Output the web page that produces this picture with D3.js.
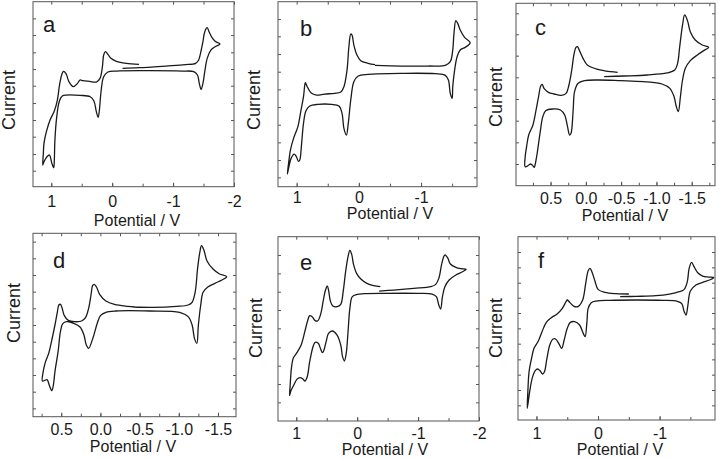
<!DOCTYPE html>
<html><head><meta charset="utf-8">
<script src="https://cdn.jsdelivr.net/npm/d3@7"></script>
<style>body{margin:0;background:#fff} svg{display:block}</style>
</head><body>
<svg id="chart" width="719" height="458"></svg>
<script>
// ---- Data: potential (V) and current (arbitrary units) ----
const potentialA = [-0.17,-0.44,-0.88,-1.20,-1.37,-1.42,-1.45,-1.49,-1.52,-1.56,-1.59,-1.64,-1.69,-1.77,-1.69,-1.62,-1.56,-1.52,-1.49,-1.46,-1.43,-1.40,-1.34,-1.15,-0.61,-0.07,0.07,0.14,0.18,0.21,0.23,0.26,0.30,0.36,0.53,0.75,0.82,0.87,0.91,0.94,0.95,0.96,0.99,1.03,1.07,1.12,1.14,1.13,1.12,1.08,1.02,0.95,0.90,0.86,0.82,0.80,0.76,0.71,0.64,0.57,0.53,0.48,0.37,0.26,0.20,0.16,0.14,0.11,0.07,0.02,-0.07,-0.23,-0.44];
const currentA = [35.5,35.7,36.2,36.6,37.0,38.0,40.0,43.5,46.5,47.7,46.5,44.7,43.6,42.8,42.0,41.0,38.5,34.5,31.0,29.2,31.0,33.5,34.5,34.7,34.8,34.7,34.4,33.0,29.0,23.0,20.8,22.5,25.7,27.0,27.4,27.5,27.2,25.5,21.0,14.0,8.0,5.7,7.0,9.5,9.0,7.5,6.5,10.0,13.0,16.5,20.0,22.7,26.0,31.0,34.0,34.6,34.0,31.5,30.0,31.0,32.0,31.8,31.6,31.4,32.5,36.0,39.5,40.5,39.7,38.5,37.6,37.0,36.7];

const potentialB = [-0.26,-0.69,-1.12,-1.39,-1.47,-1.51,-1.53,-1.56,-1.59,-1.63,-1.70,-1.79,-1.71,-1.63,-1.58,-1.54,-1.51,-1.50,-1.47,-1.44,-1.39,-1.23,-0.69,-0.15,0.01,0.08,0.13,0.17,0.20,0.24,0.27,0.32,0.44,0.66,0.79,0.85,0.89,0.92,0.95,0.97,1.01,1.04,1.09,1.13,1.15,1.13,1.10,1.05,0.98,0.93,0.89,0.87,0.86,0.83,0.77,0.68,0.55,0.39,0.29,0.24,0.19,0.16,0.13,0.11,0.08,0.03,-0.03,-0.15,-0.26];
const currentB = [36.4,36.2,36.2,36.4,37.5,41.0,46.0,49.8,49.0,47.0,44.8,43.2,41.8,41.0,39.0,35.0,30.0,26.5,28.0,32.0,33.4,33.9,34.0,33.7,33.2,31.5,26.0,19.0,15.5,17.5,22.0,24.2,24.7,24.7,24.2,22.8,19.0,13.0,8.0,7.6,9.2,9.8,8.5,5.5,3.8,7.0,11.0,14.5,18.0,23.0,27.0,30.4,31.2,30.0,28.2,27.5,27.8,28.0,28.4,30.0,35.0,42.0,45.8,45.5,42.5,39.5,37.8,37.0,36.6];

const potentialC = [-0.26,-0.54,-0.87,-1.15,-1.26,-1.30,-1.33,-1.37,-1.40,-1.44,-1.48,-1.55,-1.65,-1.74,-1.67,-1.58,-1.48,-1.41,-1.37,-1.34,-1.31,-1.28,-1.25,-1.19,-1.08,-0.82,-0.49,-0.17,0.02,0.11,0.16,0.18,0.21,0.23,0.26,0.30,0.36,0.47,0.57,0.61,0.65,0.69,0.72,0.73,0.76,0.79,0.82,0.86,0.86,0.84,0.81,0.75,0.71,0.67,0.64,0.62,0.59,0.53,0.45,0.35,0.28,0.24,0.20,0.17,0.14,0.12,0.09,0.04,-0.02,-0.17,-0.35,-0.45];
const currentC = [32.7,32.9,33.2,33.8,34.7,36.7,41.7,48.2,51.2,49.5,46.2,43.7,42.2,41.5,40.5,39.2,37.5,35.2,31.7,26.7,22.2,23.9,26.7,29.2,30.5,31.2,31.5,31.7,31.5,30.7,28.2,22.7,15.7,15.2,17.7,21.2,22.7,23.0,22.5,20.7,15.7,9.7,6.2,5.5,6.2,6.5,6.0,5.7,8.7,11.7,15.2,18.2,22.2,26.7,29.9,30.4,29.1,28.0,27.5,27.1,27.7,30.2,34.7,39.2,41.5,41.7,40.5,38.2,36.2,34.9,34.2,34.0];

const potentialD = [-0.42,-0.67,-0.97,-1.12,-1.17,-1.21,-1.24,-1.27,-1.29,-1.32,-1.36,-1.44,-1.52,-1.61,-1.55,-1.46,-1.37,-1.31,-1.28,-1.25,-1.23,-1.20,-1.17,-1.12,-1.01,-0.63,-0.20,-0.07,0.00,0.04,0.09,0.15,0.18,0.21,0.26,0.34,0.43,0.48,0.51,0.54,0.58,0.60,0.62,0.65,0.68,0.71,0.74,0.73,0.70,0.66,0.62,0.58,0.55,0.53,0.51,0.49,0.46,0.41,0.33,0.24,0.19,0.15,0.12,0.10,0.08,0.05,0.01,-0.07,-0.18,-0.35,-0.44];
const currentD = [32.9,32.8,33.1,33.5,34.3,37.5,44.5,49.5,51.3,50.0,46.7,44.2,42.8,42.0,41.0,40.0,38.9,37.3,33.5,27.5,22.0,23.5,27.5,30.0,31.3,31.7,31.7,31.3,30.3,28.0,24.0,20.5,21.5,24.5,26.9,28.0,28.5,27.9,25.5,19.5,13.5,9.5,7.8,9.3,11.1,10.9,10.7,13.5,16.5,19.0,23.0,27.5,31.3,33.5,33.7,32.7,30.3,28.9,28.5,28.7,29.7,32.5,36.5,39.3,39.7,38.9,36.7,34.7,33.7,33.1,32.9];

const potentialE = [-0.36,-0.60,-0.93,-1.21,-1.29,-1.34,-1.39,-1.43,-1.45,-1.49,-1.53,-1.62,-1.70,-1.79,-1.73,-1.62,-1.51,-1.44,-1.40,-1.37,-1.34,-1.30,-1.23,-0.99,-0.44,-0.11,0.00,0.08,0.12,0.15,0.18,0.21,0.24,0.27,0.33,0.41,0.47,0.51,0.55,0.57,0.60,0.64,0.69,0.72,0.78,0.82,0.86,0.89,0.94,0.99,1.04,1.09,1.11,1.10,1.08,1.05,0.99,0.92,0.86,0.81,0.78,0.74,0.69,0.65,0.60,0.56,0.52,0.49,0.47,0.44,0.40,0.33,0.27,0.23,0.19,0.15,0.12,0.09,0.06,0.01,-0.06,-0.16,-0.27,-0.38];
const currentE = [39.0,39.3,39.8,40.3,41.0,42.8,47.3,49.6,49.8,48.8,47.1,46.1,45.7,45.5,44.8,43.8,42.3,40.3,37.3,33.6,34.8,37.3,38.1,38.3,38.3,38.2,38.0,37.3,33.8,26.8,20.3,18.0,19.3,22.8,25.8,27.0,26.3,23.8,21.0,20.5,21.6,23.3,23.6,22.6,17.8,13.3,12.0,12.6,13.0,12.5,10.8,9.0,7.6,10.8,15.8,18.8,20.5,22.8,26.8,30.3,31.6,31.3,30.1,30.0,32.0,35.8,39.3,40.5,39.3,36.0,34.5,34.3,35.0,38.8,44.8,49.3,51.2,50.0,47.0,44.3,42.6,41.3,40.6,40.3];

const potentialF = [-0.36,-0.62,-0.94,-1.16,-1.32,-1.40,-1.45,-1.48,-1.52,-1.56,-1.62,-1.70,-1.80,-1.88,-1.81,-1.70,-1.59,-1.50,-1.46,-1.43,-1.40,-1.36,-1.29,-1.05,-0.62,-0.19,0.03,0.11,0.16,0.18,0.21,0.24,0.30,0.38,0.45,0.50,0.55,0.59,0.63,0.69,0.73,0.78,0.83,0.87,0.90,0.94,0.98,1.02,1.07,1.11,1.15,1.14,1.12,1.08,1.04,0.97,0.91,0.84,0.76,0.66,0.58,0.52,0.50,0.46,0.39,0.32,0.25,0.20,0.16,0.13,0.10,0.05,0.00,-0.11,-0.30,-0.50];
const currentF = [37.0,37.1,37.3,37.8,38.5,39.2,41.5,45.5,47.3,46.0,44.2,43.2,42.9,42.7,42.0,41.3,40.5,38.7,34.5,31.5,32.5,34.9,35.6,35.9,36.0,35.9,35.7,35.2,33.5,29.5,25.0,26.0,28.5,29.5,29.3,27.5,24.0,21.5,22.7,24.3,24.3,22.7,18.5,14.5,13.8,14.7,15.3,14.8,12.5,8.5,3.5,8.5,14.5,18.5,21.5,23.7,26.5,29.3,30.7,31.9,33.5,35.5,36.0,35.3,34.1,34.1,36.0,41.0,44.8,45.5,44.5,41.7,39.2,38.3,37.9,37.8];

// ---- Axis ticks ----
const xTicksInt = [1, 0, -1, -2];
const xTicksHalf = [0.5, 0.0, -0.5, -1.0, -1.5];
const yTicksA = [4.8,9.8,15.0,20.0,25.1,30.3,35.3,40.3,45.5,50.5];
const yTicksB = [2.8,8.0,13.3,18.6,23.9,29.2,34.5,39.8,45.1,50.3];
const yTicksC = [6.5,13.0,19.5,26.0,32.5,39.0,45.4,51.7];
const yTicksD = [2.5,7.5,12.5,17.5,22.5,27.5,32.5,37.5,42.5,47.5,52.5];
const yTicksE = [5.6,11.1,16.6,22.1,27.8,33.3,38.8,44.3,49.8];
const yTicksF = [4.4,9.0,13.6,18.2,22.9,27.5,32.1,36.7,41.2,45.8,50.4];
const letters = ["a","b","c","d","e","f"];

// tick label formats, with a plain hyphen as the minus sign
const fmtInt = d => (d < 0 ? "-" : "") + Math.abs(d).toFixed(0);
const fmtHalf = d => (d < 0 ? "-" : "") + Math.abs(d).toFixed(1);

// ---- Layout ----
const panels = [
  {E:potentialA, I:currentA, box:[33,234,1.7,186.7], xd:[1.3,-2.0], yd:[0,55.5], xt:xTicksInt, fmt:fmtInt, yt:yTicksA,
   let:[43,32], xl:[137,226], yl:[15,100], tly:207},
  {E:potentialB, I:currentB, box:[278,477,1.7,186.7], xd:[1.3,-1.9], yd:[0,55.5], xt:xTicksInt.slice(0,3), fmt:fmtInt, yt:yTicksB,
   let:[300,36], xl:[390,219], yl:[260,100], tly:203},
  {E:potentialC, I:currentC, box:[516,715,3.3,185.7], xd:[0.99,-1.83], yd:[0,54.7], xt:xTicksHalf, fmt:fmtHalf, yt:yTicksC,
   let:[535,35], xl:[625,221], yl:[502,97], tly:204},
  {E:potentialD, I:currentD, box:[33,236,233.3,416.7], xd:[0.86,-1.73], yd:[0,55.0], xt:xTicksHalf, fmt:fmtHalf, yt:yTicksD,
   let:[53,268], xl:[133,452], yl:[20,313], tly:435},
  {E:potentialE, I:currentE, box:[278,479,236.7,421], xd:[1.3,-2.0], yd:[0,55.3], xt:xTicksInt, fmt:fmtInt, yt:yTicksE,
   let:[300,270], xl:[385,455], yl:[262,328], tly:439},
  {E:potentialF, I:currentF, box:[518,715,236.7,420], xd:[1.3,-1.9], yd:[0,55.0], xt:xTicksInt.slice(0,3), fmt:fmtInt, yt:yTicksF,
   let:[538,268], xl:[620,455], yl:[502,328], tly:439}
];

const svg = d3.select("#chart");
const font = "'Liberation Sans', Arial, sans-serif";
const ink = "#1a1a1a";

panels.forEach((p, k) => {
  const [x0, x1, y0, y1] = p.box;
  const x = d3.scaleLinear().domain(p.xd).range([x0, x1]);
  const y = d3.scaleLinear().domain(p.yd).range([y1, y0]);
  const g = svg.append("g");

  // frame
  g.append("rect").attr("x", x0).attr("y", y0).attr("width", x1 - x0).attr("height", y1 - y0)
    .attr("fill", "none").attr("stroke", "#555").attr("stroke-width", 1);

  // minor x ticks (halfway between major ticks)
  const step = Math.abs(p.xt[0] - p.xt[1]);
  const minor = d3.range(Math.ceil(Math.min(...p.xd) / (step / 2)), Math.floor(Math.max(...p.xd) / (step / 2)) + 1)
    .map(i => i * step / 2);

  // x axes bottom (with labels) and top (ticks only), ticks inward
  g.append("g").attr("transform", `translate(0,${y1})`).call(d3.axisBottom(x).tickValues(minor).tickSize(-3).tickFormat(""));
  g.append("g").attr("transform", `translate(0,${y0})`).call(d3.axisTop(x).tickValues(minor).tickSize(-3).tickFormat(""));
  const bm = g.append("g").attr("transform", `translate(0,${y1})`)
    .call(d3.axisBottom(x).tickValues(p.xt).tickSize(-4).tickFormat(p.fmt).tickPadding(0));
  bm.selectAll("text").attr("y", p.tly - y1).attr("dy", 0).attr("font-size", 16).attr("font-family", font).attr("fill", ink);

  // y axes left and right, ticks inward, no labels
  g.append("g").attr("transform", `translate(${x0},0)`).call(d3.axisLeft(y).tickValues(p.yt).tickSize(-3).tickFormat(""));
  g.append("g").attr("transform", `translate(${x1},0)`).call(d3.axisRight(y).tickValues(p.yt).tickSize(-3).tickFormat(""));
  g.selectAll(".domain").remove();
  g.selectAll(".tick line").attr("stroke", "#555");

  // the voltammogram
  const pts = d3.zip(p.E, p.I);
  g.append("path").datum(pts)
    .attr("d", d3.line().x(d => x(d[0])).y(d => y(d[1])).curve(d3.curveCatmullRom.alpha(0.5)))
    .attr("fill", "none").attr("stroke", ink).attr("stroke-width", 1.3).attr("stroke-linejoin", "round");

  // panel letter
  g.append("text").attr("x", p.let[0]).attr("y", p.let[1]).text(letters[k])
    .attr("font-family", font).attr("font-size", 22).attr("fill", ink);
  // axis titles
  g.append("text").attr("x", p.xl[0]).attr("y", p.xl[1]).attr("text-anchor", "middle").text("Potential / V")
    .attr("font-family", font).attr("font-size", 16).attr("fill", ink);
  g.append("text").attr("transform", `translate(${p.yl[0]},${p.yl[1]}) rotate(-90)`).attr("text-anchor", "middle").text("Current")
    .attr("font-family", font).attr("font-size", 18).attr("fill", ink);
});
</script>
</body></html>
